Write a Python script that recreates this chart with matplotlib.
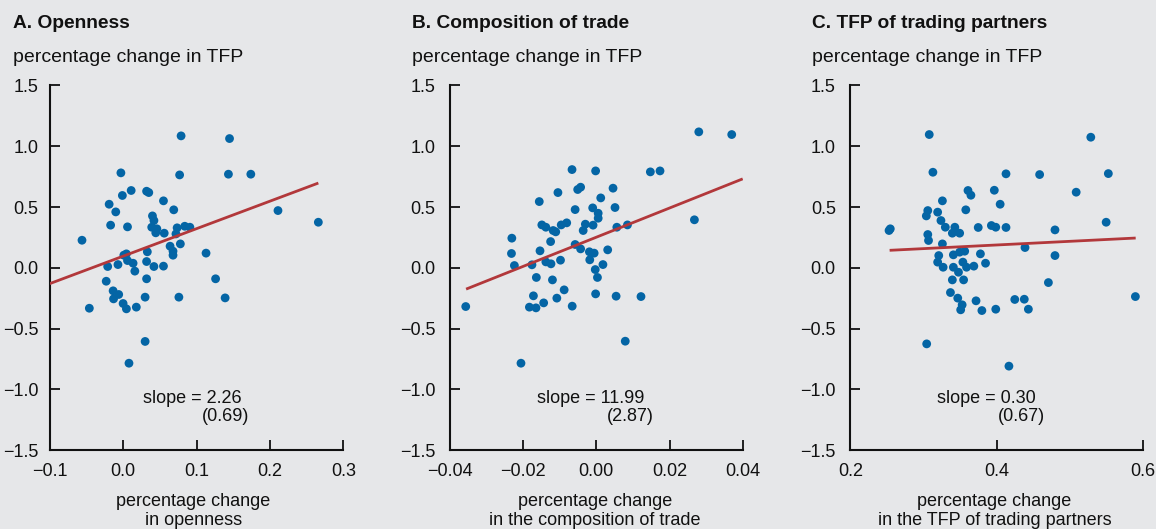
import matplotlib
matplotlib.use("Agg")
import matplotlib.pyplot as plt
import numpy as np

plt.rcParams["font.family"] = ["Liberation Sans", "DejaVu Sans"]

BG = "#e6e7e9"
DOT = "#0465a5"
FIT = "#b2383b"

# ---- Panel A: openness -------------------------------------------------------
open_x = [0.079, 0.145, -0.003, 0.077, 0.1435, 0.174, -0.001, 0.011, 0.032, 0.035,
          -0.019, -0.010, 0.055, 0.069, 0.211, 0.266, -0.056, -0.017, 0.006, 0.040,
          0.042, 0.039, 0.046, 0.0445, 0.056, 0.0736, 0.084, 0.091, 0.072, 0.078,
          0.064, 0.068, 0.068, 0.113, 0.033, 0.032, 0.042, 0.055, 0.0045, 0.001,
          0.006, 0.0136, -0.007, -0.021, 0.016, 0.032, -0.023, 0.126, -0.0136, -0.006,
          -0.013, 0.030, 0.076, 0.139, -0.046, 0.000, 0.0045, 0.018, 0.030, 0.008]
open_y = [1.085, 1.063, 0.781, 0.764, 0.770, 0.770, 0.595, 0.636, 0.630, 0.619,
          0.523, 0.460, 0.551, 0.477, 0.471, 0.375, 0.227, 0.351, 0.337, 0.427,
          0.389, 0.334, 0.321, 0.288, 0.285, 0.329, 0.342, 0.334, 0.279, 0.197,
          0.178, 0.137, 0.104, 0.121, 0.132, 0.052, 0.011, 0.014, 0.115, 0.104,
          0.060, 0.038, 0.027, 0.011, -0.027, -0.090, -0.110, -0.090, -0.189, -0.219,
          -0.255, -0.241, -0.241, -0.247, -0.332, -0.293, -0.337, -0.323, -0.605, -0.784]

# ---- Panel B: composition of trade -------------------------------------------
comp_x = [0.0280, 0.0370, -0.00665, -0.0002, 0.01476, 0.0174, -0.0051, -0.0043, 0.00456, -0.0105,
          0.0012, -0.0156, -0.0058, -0.0010, 0.0005, 0.0005, 0.0051, 0.0268, -0.0149, -0.0138,
          -0.0118, -0.0111, -0.0096, -0.0081, -0.0030, -0.0036, -0.0009, 0.0056, 0.0085, -0.0231,
          -0.0125, -0.0058, -0.0043, -0.0019, -0.0006, 0.0031, -0.0232, -0.0154, -0.0224, -0.0176,
          -0.0138, -0.0124, -0.0098, -0.0018, 0.0018, -0.0003, 0.0003, -0.0164, -0.0120, -0.0088,
          -0.0172, -0.0002, 0.0054, 0.0122, -0.0108, -0.0144, -0.0183, -0.0165, -0.0066, -0.0357,
          0.0079, -0.0206]
comp_y = [1.118, 1.096, 0.808, 0.797, 0.789, 0.797, 0.644, 0.663, 0.655, 0.619,
          0.575, 0.545, 0.479, 0.493, 0.449, 0.408, 0.496, 0.395, 0.353, 0.334,
          0.307, 0.296, 0.353, 0.370, 0.359, 0.307, 0.351, 0.334, 0.353, 0.244,
          0.216, 0.192, 0.156, 0.132, 0.121, 0.148, 0.118, 0.140, 0.019, 0.025,
          0.049, 0.033, 0.063, 0.066, 0.027, -0.014, -0.079, -0.079, -0.099, -0.181,
          -0.230, -0.214, -0.233, -0.236, -0.249, -0.288, -0.323, -0.329, -0.315, -0.318,
          -0.603, -0.784]

# ---- Panel C: TFP of trading partners ----------------------------------------
part_x = [0.308, 0.529, 0.313, 0.413, 0.459, 0.553, 0.509, 0.361, 0.365, 0.397,
          0.326, 0.405, 0.306, 0.304, 0.3195, 0.358, 0.324, 0.330, 0.343, 0.3396,
          0.3496, 0.375, 0.393, 0.399, 0.413, 0.480, 0.550, 0.2547, 0.253, 0.306,
          0.307, 0.326, 0.439, 0.480, 0.321, 0.341, 0.3496, 0.3565, 0.378, 0.3195,
          0.327, 0.341, 0.354, 0.359, 0.348, 0.369, 0.385, 0.3396, 0.355, 0.471,
          0.337, 0.347, 0.353, 0.351, 0.372, 0.380, 0.399, 0.425, 0.438, 0.4436,
          0.590, 0.3045, 0.417]
part_y = [1.096, 1.074, 0.786, 0.773, 0.767, 0.775, 0.622, 0.636, 0.597, 0.638,
          0.551, 0.523, 0.471, 0.427, 0.458, 0.477, 0.389, 0.334, 0.334, 0.285,
          0.285, 0.332, 0.348, 0.334, 0.332, 0.312, 0.375, 0.321, 0.307, 0.274,
          0.225, 0.197, 0.167, 0.101, 0.101, 0.107, 0.129, 0.137, 0.115, 0.047,
          0.005, 0.005, 0.047, 0.005, -0.036, 0.014, 0.038, -0.099, -0.099, -0.121,
          -0.203, -0.249, -0.304, -0.345, -0.271, -0.351, -0.340, -0.260, -0.258, -0.340,
          -0.236, -0.625, -0.808]

# Regression estimates (slope, standard error, intercept) and the x span of each fit line
slopes = [2.26, 11.99, 0.30]
std_errs = ["(0.69)", "(2.87)", "(0.67)"]
intercepts = [0.096, 0.252, 0.068]
fit_spans = [[-0.1, 0.266], [-0.0356, 0.040], [0.2538, 0.5904]]

titles = ["A. Openness", "B. Composition of trade", "C. TFP of trading partners"]
y_title = "percentage change in TFP"
x_titles = ["percentage change\nin openness",
            "percentage change\nin the composition of trade",
            "percentage change\nin the TFP of trading partners"]

x_ticks = [[-0.1, 0.0, 0.1, 0.2, 0.3],
           [-0.04, -0.02, 0.0, 0.02, 0.04],
           [0.2, 0.4, 0.6]]
x_ticklabels = [["\u22120.1", "0.0", "0.1", "0.2", "0.3"],
                ["\u22120.04", "\u22120.02", "0.00", "0.02", "0.04"],
                ["0.2", "0.4", "0.6"]]
y_ticks = [-1.5, -1.0, -0.5, 0.0, 0.5, 1.0, 1.5]
y_ticklabels = ["\u22121.5", "\u22121.0", "\u22120.5", "0.0", "0.5", "1.0", "1.5"]

xs = [open_x, comp_x, part_x]
ys = [open_y, comp_y, part_y]

W, H = 1156, 529
fig = plt.figure(figsize=(W / 100, H / 100), dpi=100, facecolor=BG)

# axes boxes in pixels: left, right ; shared top/bottom
boxes = [(49.7, 343.3), (450.0, 742.7), (850.3, 1142.7)]
top_px, bot_px = 85.4, 450.3
title_x = [13.0, 411.7, 811.7]
ylab_pad = [8.3, 10.4, 10.4]
slope_pos = [(0.319, 0.520), (0.296, 0.535), (0.2975, 0.503)]
xlab_center = [0.49, 0.496, 0.493]

FS = 13

for i in range(3):
    l, r = boxes[i]
    ax = fig.add_axes([l / W, (H - bot_px) / H, (r - l) / W, (bot_px - top_px) / H])
    ax.set_facecolor(BG)
    for side in ("top", "right"):
        ax.spines[side].set_visible(False)
    for side in ("left", "bottom"):
        ax.spines[side].set_linewidth(1.5)
        ax.spines[side].set_color("#111111")

    ax.scatter(xs[i], ys[i], s=40, color=DOT, edgecolors="none", zorder=3, clip_on=False)

    span = np.array(fit_spans[i])
    ax.plot(span, intercepts[i] + slopes[i] * span, color=FIT, lw=2.0, zorder=4,
            solid_capstyle="butt")

    ax.set_xlim(x_ticks[i][0], x_ticks[i][-1])
    ax.set_ylim(-1.5, 1.5)
    ax.set_xticks(x_ticks[i])
    ax.set_xticklabels(x_ticklabels[i])
    ax.set_yticks(y_ticks)
    ax.set_yticklabels(y_ticklabels)
    ax.tick_params(axis="both", direction="in", length=7, width=1.3, color="#111111",
                   labelsize=FS, labelcolor="#111111")
    ax.tick_params(axis="y", pad=ylab_pad[i])
    ax.tick_params(axis="x", pad=9.5)

    sx, ex = slope_pos[i]
    ax.text(sx, 0.130, f"slope = {slopes[i]:.2f}", transform=ax.transAxes,
            fontsize=FS, color="#111111", ha="left", va="baseline")
    ax.text(ex, 0.081, std_errs[i], transform=ax.transAxes,
            fontsize=FS, color="#111111", ha="left", va="baseline")

    ax.text(xlab_center[i], -0.118, x_titles[i], transform=ax.transAxes,
            fontsize=FS, color="#111111", ha="center", va="top", linespacing=1.1)

    fig.text(title_x[i] / W, (H - 28.3) / H, titles[i], fontsize=13.8,
             fontweight="bold", color="#111111", ha="left", va="baseline")
    fig.text(title_x[i] / W, (H - 61.7) / H, y_title, fontsize=14,
             color="#111111", ha="left", va="baseline")

fig.savefig("out.png", dpi=100, facecolor=BG)
